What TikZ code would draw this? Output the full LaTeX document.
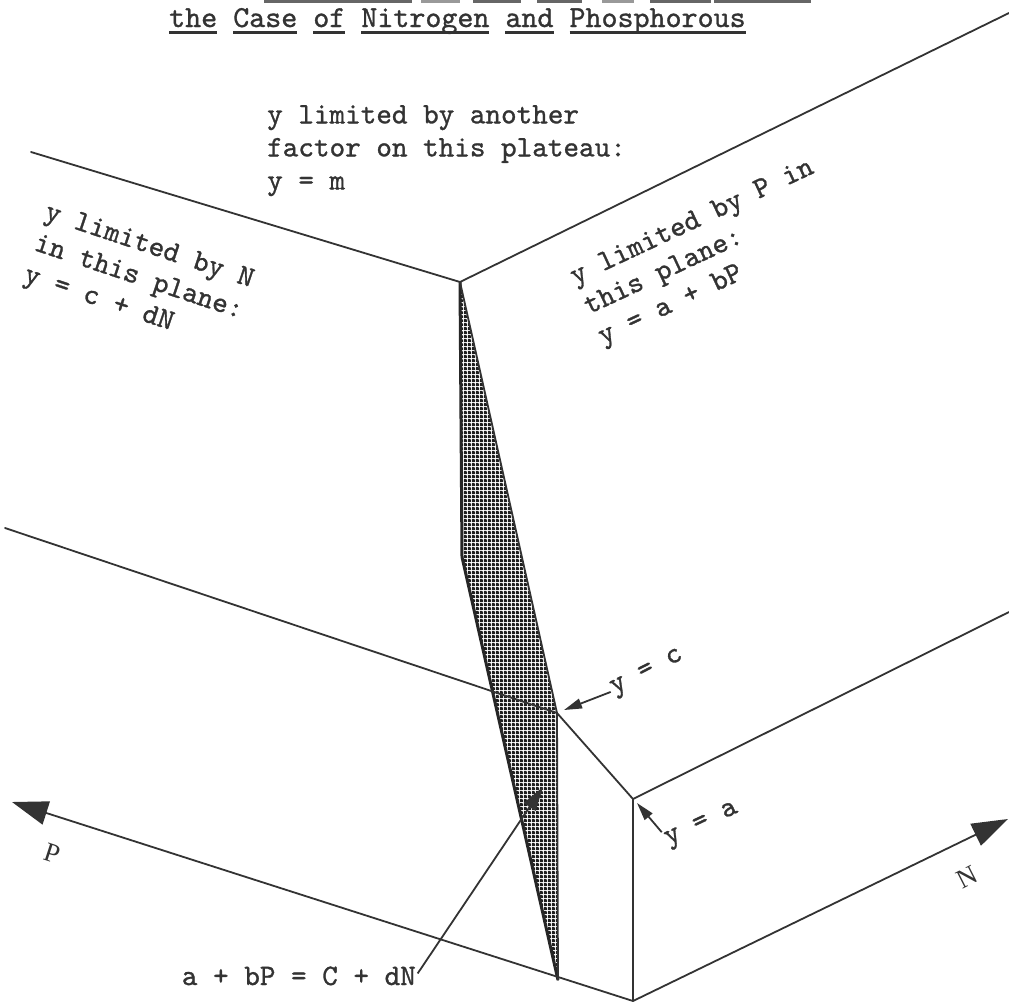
\documentclass[tikz,border=0pt]{standalone}
\usepackage{fontspec}
\setmonofont{lmmono10-regular}[Extension=.otf, FakeBold=1.0]
\newfontfamily\axfont{Liberation Serif}
\usetikzlibrary{arrows.meta,patterns}
\pgfdeclarepatternformonly{halftone}{\pgfpointorigin}{\pgfpoint{4pt}{4pt}}{\pgfpoint{4pt}{4pt}}{%
  \pgfpathrectangle{\pgfpoint{0pt}{0pt}}{\pgfpoint{4pt}{2.9pt}}%
  \pgfpathrectangle{\pgfpoint{0pt}{0pt}}{\pgfpoint{2.9pt}{4pt}}%
  \pgfusepath{fill}}
\newcommand\ulword[1]{\setbox0\hbox{#1}\rlap{\rule[-6.5pt]{\wd0}{2.2pt}}\box0\relax}
\begin{document}
\begin{tikzpicture}[x=1pt,y=-1pt,
  edge/.style={line width=1.8pt, draw=black!80, line cap=round, line join=round},
  lbl/.style={font=\ttfamily\fontsize{29.7}{33}\selectfont, text=black!80, inner sep=0pt, align=left},
  ttl/.style={font=\ttfamily\fontsize{30.5}{33}\selectfont, text=black!80, inner sep=0pt},
  ptr/.style={line width=1.8pt, draw=black!80, -{Triangle[length=18pt,width=10pt]}},
  bigptr/.style={line width=1.8pt, draw=black!80, -{Triangle[length=24pt,width=14pt]}},
  axis/.style={line width=1.8pt, draw=black!80, -{Triangle[length=36pt,width=24pt]}},
  axlbl/.style={font=\axfont\fontsize{27}{27}\selectfont, text=black!80, inner sep=0pt},
  cutbar/.style={fill=black!60}
]
\useasboundingbox (0,0) rectangle (1009,1005);
\fill[white] (0,0) rectangle (1009,1005);

% cut-off underlines of the first title line
\fill[cutbar] (264,0) rectangle (412,2.5);
\fill[black!40] (421,0) rectangle (460,2.5);
\fill[cutbar] (473,0) rectangle (521,2.5);
\fill[cutbar] (537,0) rectangle (582,2.5);
\fill[black!40] (602,0) rectangle (634,2.5);
\fill[cutbar] (650,0) rectangle (711,2.5);
\fill[cutbar] (714,0) rectangle (811,2.5);

\coordinate (A) at (460,282);
\coordinate (Lt) at (31,152);
\coordinate (Rt) at (1009,13);
\coordinate (Lm) at (5,528);
\coordinate (C) at (557,713);
\coordinate (Ya) at (633,799);
\coordinate (Rm) at (1009,612);
\coordinate (B) at (633,1001);
\coordinate (Pt) at (12,802);
\coordinate (Nt) at (1008,819);
\coordinate (S1) at (462,557);
\coordinate (D) at (558,980);
\coordinate (Cp) at (564,710);
\coordinate (Yap) at (637,803);
\coordinate (Eqp) at (543,787);

% shaded sliver
\fill[pattern=halftone, pattern color=black!88] (A) -- (S1) -- (D) -- (C) -- cycle;
\draw[line width=3pt, draw=black!85, line join=round] (A) -- (S1) -- (D);

% edges
\draw[edge] (Lt) -- (A) -- (Rt);
\draw[edge] (A) -- (C);
\draw[edge] (Lm) -- (C) -- (Ya) -- (Rm);
\draw[edge] (Ya) -- (B);
\draw[edge] (C) -- (D);
\draw[axis] (B) -- (Pt);
\draw[axis] (B) -- (Nt);

% title
\node[ttl, anchor=base west] (title) at (169,27)
  {\ulword{the} \ulword{Case} \ulword{of} \ulword{Nitrogen} \ulword{and} \ulword{Phosphorous}};

% texts
\node[lbl, anchor=north west] (plat) at (267,105)
  {y limited by another\\factor on this plateau:\\y = m};
\node[lbl, anchor=north west, rotate=-18.4] (nplane) at (49,201)
  {y limited by N\\in this plane:\\y = c + dN};
\node[lbl, anchor=north west, rotate=25] (pplane) at (567,268)
  {y limited by P in\\this plane:\\y = a + bP};

\node[lbl, anchor=base west, rotate=27] (yc) at (614,694) {y = c};
\draw[ptr, shorten <=2pt] (yc.west) -- (Cp);

\node[lbl, anchor=base west, rotate=25] (ya) at (668,845) {y = a};
\draw[ptr, shorten <=1pt] (ya.north west) -- (Yap);

\node[lbl, anchor=base east] (eq) at (416,985) {a + bP = C + dN};
\draw[bigptr, shorten <=3pt] (eq.east) -- (Eqp);

\node[axlbl, rotate=-18] (P) at (52,853) {P};
\node[axlbl, rotate=27] (N) at (967,877) {N};
\end{tikzpicture}
\end{document}
